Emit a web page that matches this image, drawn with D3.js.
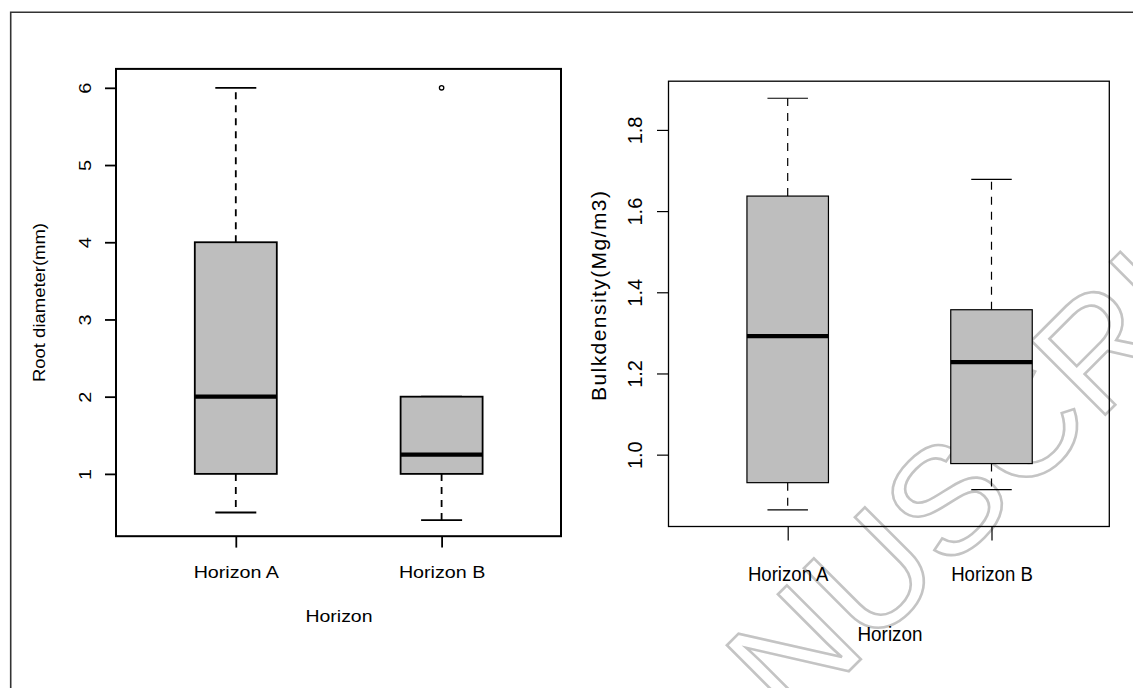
<!DOCTYPE html>
<html>
<head>
<meta charset="utf-8">
<script src="https://cdn.jsdelivr.net/npm/d3@7"></script>
<style>
  body { margin: 0; background: #fff; }
  text { font-family: "Liberation Sans", Arial, sans-serif; fill: #000; }
</style>
</head>
<body>
<div id="chart"></div>
<script>
// categories shared by both panels
var horizons = ["Horizon A", "Horizon B"];

// root diameter (mm) - boxplot summaries
var rootLow  = [0.5, 0.4];
var rootQ1   = [1, 1];
var rootMed  = [2, 1.25];
var rootQ3   = [4, 2];
var rootHigh = [6, 2];
var rootOut  = [[], [6]];
var rootTicks = [1, 2, 3, 4, 5, 6];

// bulk density (Mg/m3)
var bulkLow  = [0.864, 0.914];
var bulkQ1   = [0.931, 0.978];
var bulkMed  = [1.292, 1.228];
var bulkQ3   = [1.637, 1.357];
var bulkHigh = [1.878, 1.678];
var bulkOut  = [[], []];
var bulkTicks = [1.0, 1.2, 1.4, 1.6, 1.8];

var svgWidth = 1133;
var svgHeight = 688;

var svg = d3.select("#chart")
  .append("svg")
  .attr("width", svgWidth)
  .attr("height", svgHeight);

svg.append("rect").attr("width", svgWidth).attr("height", svgHeight).attr("fill", "#fff");

// outer figure frame (only top and left edges are visible)
svg.append("path")
  .attr("d", "M10.7,688 L10.7,12.3 L1133,12.3")
  .attr("fill", "none")
  .attr("stroke", "#333")
  .attr("stroke-width", 1.6);

// watermark outline, sits under the plots
var wm = svg.append("g")
  .attr("transform", "translate(792,728) rotate(-45)");
wm.append("text")
  .attr("x", 0).attr("y", 0)
  .attr("font-size", 152)
  .style("fill", "none")
  .attr("stroke", "#c4c4c4")
  .attr("stroke-width", 2.6)
  .text("NUSCRIPT");

// stretch text along its own direction so widths match the figure
function stretch(sel, k) {
  sel.each(function() {
    var w = this.getComputedTextLength();
    d3.select(this).attr("textLength", w * k).attr("lengthAdjust", "spacingAndGlyphs");
  });
}

function rows(low, q1, med, q3, high, out) {
  return horizons.map(function(h, i) {
    return { name: h, low: low[i], q1: q1[i], med: med[i], q3: q3[i], high: high[i], out: out[i] };
  });
}

function drawPanel(p, data, ticks) {
  var g = svg.append("g");

  var y = d3.scaleLinear().domain(p.domain).range([p.bottom, p.top]);
  var x = d3.scalePoint().domain(horizons).range(p.centers);

  // boxes
  var box = g.selectAll(".box").data(data).enter().append("g");

  // dashed whiskers
  box.append("line")
    .attr("x1", d => x(d.name)).attr("x2", d => x(d.name))
    .attr("y1", d => y(d.q3)).attr("y2", d => y(d.high))
    .attr("stroke", "#000").attr("stroke-width", p.lineW)
    .attr("stroke-dasharray", p.dash);
  box.append("line")
    .attr("x1", d => x(d.name)).attr("x2", d => x(d.name))
    .attr("y1", d => y(d.q1)).attr("y2", d => y(d.low))
    .attr("stroke", "#000").attr("stroke-width", p.lineW)
    .attr("stroke-dasharray", p.dash);

  // whisker caps
  box.selectAll(".cap")
    .data(d => [d.low, d.high].map(v => ({ name: d.name, v: v })))
    .enter().append("line")
    .attr("x1", d => x(d.name) - p.capW / 2).attr("x2", d => x(d.name) + p.capW / 2)
    .attr("y1", d => y(d.v)).attr("y2", d => y(d.v))
    .attr("stroke", "#000").attr("stroke-width", p.lineW);

  box.append("rect")
    .attr("x", d => x(d.name) - p.boxW / 2)
    .attr("width", p.boxW)
    .attr("y", d => y(d.q3))
    .attr("height", d => y(d.q1) - y(d.q3))
    .attr("fill", "#bebebe")
    .attr("stroke", "#000")
    .attr("stroke-width", p.lineW);

  // medians
  box.append("line")
    .attr("x1", d => x(d.name) - p.boxW / 2).attr("x2", d => x(d.name) + p.boxW / 2)
    .attr("y1", d => y(d.med)).attr("y2", d => y(d.med))
    .attr("stroke", "#000").attr("stroke-width", 4.4);

  // outliers
  box.selectAll(".out")
    .data(d => d.out.map(v => ({ name: d.name, v: v })))
    .enter().append("circle")
    .attr("cx", d => x(d.name)).attr("cy", d => y(d.v))
    .attr("r", 2.2)
    .attr("fill", "none").attr("stroke", "#000").attr("stroke-width", 1.3);

  // plot frame
  g.append("rect")
    .attr("x", p.left).attr("y", p.top)
    .attr("width", p.right - p.left).attr("height", p.bottom - p.top)
    .attr("fill", "none").attr("stroke", "#000").attr("stroke-width", p.frameW);

  // y axis
  var yAxis = g.append("g")
    .attr("transform", "translate(" + p.left + ",0)")
    .call(d3.axisLeft(y).tickValues(ticks).tickSize(p.tickLen).tickSizeOuter(0)
      .tickFormat(p.fmt));
  yAxis.select(".domain").remove();
  yAxis.selectAll("line").attr("stroke", "#000").attr("stroke-width", p.lineW);
  yAxis.selectAll("text")
    .attr("transform", "rotate(-90)")
    .attr("x", 0).attr("y", -p.yLabOff).attr("dy", null)
    .attr("text-anchor", "middle")
    .attr("font-size", p.tickFont)
    .style("fill", "#000");
  stretch(yAxis.selectAll("text"), p.tickStretch);

  // x axis
  var xAxis = g.append("g")
    .attr("transform", "translate(0," + p.bottom + ")")
    .call(d3.axisBottom(x).tickSize(p.xTickLen).tickSizeOuter(0));
  xAxis.select(".domain").remove();
  xAxis.selectAll("line").attr("stroke", "#000").attr("stroke-width", p.lineW);
  xAxis.selectAll("text")
    .attr("y", p.xLabOff).attr("dy", 0)
    .attr("font-size", p.xFont)
    .style("fill", "#000");
  stretch(xAxis.selectAll("text"), p.xStretch);

  // axis titles
  svg.append("text")
    .attr("x", p.xTitle[0]).attr("y", p.xTitle[1])
    .attr("text-anchor", "middle")
    .attr("font-size", p.xTitleFont)
    .attr("textLength", p.xTitleLen).attr("lengthAdjust", "spacingAndGlyphs")
    .text("Horizon");

  svg.append("text")
    .attr("transform", "translate(" + p.yTitle[0] + "," + p.yTitle[1] + ") rotate(-90)")
    .attr("text-anchor", "middle")
    .attr("font-size", p.yTitleFont)
    .attr("textLength", p.yTitleLen).attr("lengthAdjust", p.yTitleAdjust)
    .text(p.yTitleText);
}

drawPanel({
  left: 116, right: 561, top: 68.9, bottom: 536.2,
  domain: [0.193, 6.245], centers: [235.8, 441.6],
  boxW: 82, capW: 41, lineW: 1.8, frameW: 2, dash: "7,6",
  tickLen: 11, yLabOff: 25, tickFont: 16, tickStretch: 1.24, fmt: d3.format("d"),
  xTickLen: 11.4, xLabOff: 42.1, xFont: 16, xStretch: 1.23,
  xTitle: [339, 621.7], xTitleFont: 16, xTitleLen: 67,
  yTitle: [45, 302.5], yTitleFont: 17, yTitleLen: 159, yTitleAdjust: "spacingAndGlyphs",
  yTitleText: "Root diameter(mm)"
}, rows(rootLow, rootQ1, rootMed, rootQ3, rootHigh, rootOut), rootTicks);

drawPanel({
  left: 668.5, right: 1109.3, top: 81.2, bottom: 526.5,
  domain: [0.823, 1.92], centers: [787.7, 991.5],
  boxW: 81.5, capW: 40.5, lineW: 1.2, frameW: 1.3, dash: "8,7",
  tickLen: 11.5, yLabOff: 27, tickFont: 20, tickStretch: 1.0, fmt: d3.format(".1f"),
  xTickLen: 14, xLabOff: 54.5, xFont: 20, xStretch: 0.93,
  xTitle: [890, 640.7], xTitleFont: 21, xTitleLen: 65,
  yTitle: [606, 296], yTitleFont: 21, yTitleLen: 210, yTitleAdjust: "spacing",
  yTitleText: "Bulkdensity(Mg/m3)"
}, rows(bulkLow, bulkQ1, bulkMed, bulkQ3, bulkHigh, bulkOut), bulkTicks);
</script>
</body>
</html>
